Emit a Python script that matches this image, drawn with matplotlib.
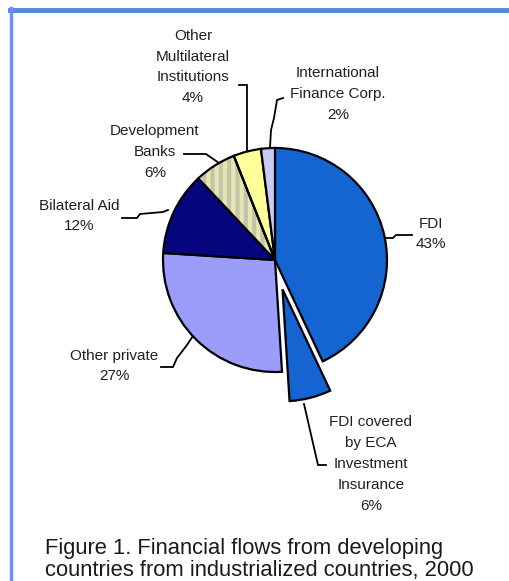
import matplotlib
matplotlib.use("Agg")
import matplotlib.pyplot as plt
import matplotlib.patches as mpatches
from matplotlib.lines import Line2D

# Financial flows, 2000 (share of total, %)
categories = ["FDI", "FDI covered\nby ECA\nInvestment\nInsurance",
              "Other private", "Bilateral Aid", "Development\nBanks",
              "Other\nMultilateral\nInstitutions",
              "International\nFinance Corp."]
shares = [43, 6, 27, 12, 6, 4, 2]
colors = ["#1464D2", "#1464D2", "#9C9CFA", "#06067E", "#E6E6B4",
          "#FFFF99", "#CACAF4"]
explode_frac = [0, 0.27, 0, 0, 0, 0, 0]

caption_lines = ["Figure 1. Financial flows from developing",
                 "countries from industrialized countries, 2000"]

W, H = 510, 581
CX, CY, R = 275, 260, 112


def px(x, y):
    """Pixel position on the page -> pie data coordinates (radius 1)."""
    return (x - CX) / R, (CY - y) / R


plt.rcParams["font.family"] = ["Liberation Sans", "DejaVu Sans"]
plt.rcParams["hatch.linewidth"] = 3.0

fig = plt.figure(figsize=(W / 100, H / 100), dpi=100)
fig.patch.set_facecolor("white")
ax = fig.add_axes([0, 0, 1, 1])

wedges, _ = ax.pie(shares, colors=colors, startangle=90, counterclock=False,
                   explode=explode_frac, radius=1.0,
                   wedgeprops=dict(edgecolor="black", linewidth=1.6))

x0, y1 = px(0, 0)
x1, y0 = px(W, H)
ax.set_xlim(x0, x1)
ax.set_ylim(y0, y1)
ax.set_aspect("auto")
ax.axis("off")

# striped fill for the development banks slice
wb = wedges[4]
wb.set_edgecolor("#C4C4A6")
wb.set_hatch("||")
wb.set_linewidth(0)
ax.add_patch(mpatches.Wedge(wb.center, wb.r, wb.theta1, wb.theta2,
                            fill=False, edgecolor="black", linewidth=1.6))

label_fs = 11
txt_color = "#202020"

# label text (pixel centre of block), percentages appended from data
label_pos = [(431, 234), (371, 464), (114, 366), (79, 216),
             (155, 152), (193, 67), (338, 94)]
for name, val, (lx, ly) in zip(categories, shares, label_pos):
    tx, ty = px(lx, ly)
    ax.text(tx, ty, f"{name}\n{val}%", ha="center", va="center",
            fontsize=label_fs, color=txt_color, linespacing=1.62)

# leader lines (pixel paths)
leaders = [
    [(386, 238), (393, 238), (396, 235), (412, 235)],
    [(304, 404), (318, 465), (326, 465)],
    [(161, 367), (173, 367), (177, 358), (187, 345), (193, 336)],
    [(122, 218), (137, 218), (140, 214), (163, 212), (168, 210)],
    [(184, 154), (206, 154), (219, 163)],
    [(239, 85), (247, 85), (247, 150)],
    [(283, 98), (277, 100), (274, 118), (271, 130), (270, 148)],
]
for path in leaders:
    pts = [px(x, y) for x, y in path]
    ax.plot([p[0] for p in pts], [p[1] for p in pts], color="black",
            linewidth=1.3, solid_joinstyle="miter")

# caption, two lines
for line, base in zip(caption_lines, (554, 576)):
    cx, cy = px(45, base)
    ax.text(cx, cy, line, ha="left", va="baseline", fontsize=15.8,
            color="#1a1a1a")

# page frame
fig.add_artist(Line2D([10 / W, 1], [1 - 9.5 / H, 1 - 9.5 / H],
                      color="#4F86E0", linewidth=3.5))
fig.add_artist(Line2D([11.5 / W, 11.5 / W], [0, 1 - 8 / H],
                      color="#6F8CFF", linewidth=2.5))

fig.savefig("out.png", dpi=100, facecolor="white")
